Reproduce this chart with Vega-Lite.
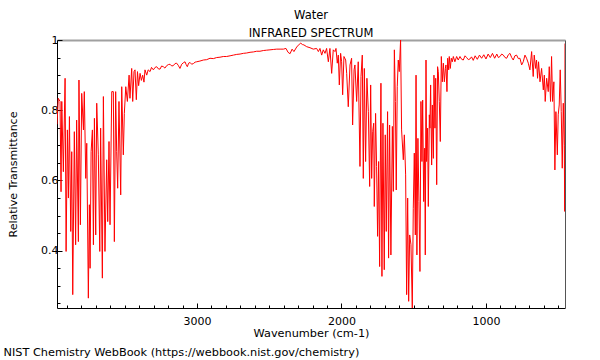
{
  "$schema": "https://vega.github.io/schema/vega-lite/v6.json",
  "width": 508,
  "height": 268,
  "autosize": "none",
  "padding": {"left": 57, "top": 40, "right": 35, "bottom": 52},
  "background": "white",
  "config": {"view": {"stroke": null}, "font": "DejaVu Sans"},
  "title": {"text": ["Water", "INFRARED SPECTRUM"], "font": "DejaVu Sans", "fontSize": 11.5, "fontWeight": "normal", "lineHeight": 18, "offset": -5, "color": "black", "anchor": "middle"},
  "data": {"values": [
    {"wn":3969,"T":0.76},{"wn":3960,"T":0.834},{"wn":3948,"T":0.825},{"wn":3941,"T":0.568},{"wn":3936,"T":0.825},{"wn":3925,"T":0.625},{"wn":3913,"T":0.891},{"wn":3906,"T":0.398},{"wn":3897,"T":0.744},{"wn":3890,"T":0.55},{"wn":3883,"T":0.782},{"wn":3874,"T":0.455},{"wn":3867,"T":0.682},{"wn":3860,"T":0.275},{"wn":3849,"T":0.739},{"wn":3840,"T":0.417},{"wn":3833,"T":0.772},{"wn":3821,"T":0.426},{"wn":3817,"T":0.886},{"wn":3807,"T":0.474},{"wn":3798,"T":0.848},{"wn":3786,"T":0.744},{"wn":3780,"T":0.853},{"wn":3770,"T":0.606},{"wn":3763,"T":0.706},{"wn":3752,"T":0.265},{"wn":3745,"T":0.531},{"wn":3740,"T":0.35},{"wn":3733,"T":0.682},{"wn":3724,"T":0.744},{"wn":3717,"T":0.417},{"wn":3710,"T":0.777},{"wn":3701,"T":0.445},{"wn":3694,"T":0.82},{"wn":3683,"T":0.673},{"wn":3673,"T":0.398},{"wn":3667,"T":0.749},{"wn":3655,"T":0.322},{"wn":3648,"T":0.839},{"wn":3637,"T":0.398},{"wn":3625,"T":0.659},{"wn":3618,"T":0.483},{"wn":3609,"T":0.711},{"wn":3602,"T":0.474},{"wn":3590,"T":0.853},{"wn":3579,"T":0.853},{"wn":3572,"T":0.426},{"wn":3563,"T":0.853},{"wn":3556,"T":0.682},{"wn":3549,"T":0.578},{"wn":3540,"T":0.825},{"wn":3528,"T":0.559},{"wn":3521,"T":0.867},{"wn":3510,"T":0.673},{"wn":3503,"T":0.791},{"wn":3493,"T":0.867},{"wn":3482,"T":0.825},{"wn":3470,"T":0.9},{"wn":3464,"T":0.834},{"wn":3452,"T":0.919},{"wn":3445,"T":0.825},{"wn":3436,"T":0.91},{"wn":3429,"T":0.915},{"wn":3420,"T":0.83},{"wn":3412,"T":0.91},{"wn":3404,"T":0.87},{"wn":3394,"T":0.905},{"wn":3385,"T":0.885},{"wn":3376,"T":0.9},{"wn":3367,"T":0.88},{"wn":3360,"T":0.915},{"wn":3348,"T":0.9},{"wn":3338,"T":0.915},{"wn":3325,"T":0.91},{"wn":3315,"T":0.922},{"wn":3302,"T":0.915},{"wn":3290,"T":0.922},{"wn":3279,"T":0.924},{"wn":3268,"T":0.918},{"wn":3256,"T":0.917},{"wn":3245,"T":0.926},{"wn":3233,"T":0.924},{"wn":3222,"T":0.92},{"wn":3210,"T":0.927},{"wn":3198,"T":0.93},{"wn":3187,"T":0.931},{"wn":3175,"T":0.926},{"wn":3164,"T":0.927},{"wn":3152,"T":0.933},{"wn":3141,"T":0.934},{"wn":3130,"T":0.928},{"wn":3118,"T":0.919},{"wn":3106,"T":0.931},{"wn":3095,"T":0.935},{"wn":3083,"T":0.938},{"wn":3075,"T":0.93},{"wn":3067,"T":0.924},{"wn":3058,"T":0.934},{"wn":3048,"T":0.936},{"wn":3037,"T":0.931},{"wn":3025,"T":0.933},{"wn":3013,"T":0.937},{"wn":3002,"T":0.938},{"wn":2980,"T":0.94},{"wn":2956,"T":0.943},{"wn":2933,"T":0.944},{"wn":2910,"T":0.948},{"wn":2887,"T":0.947},{"wn":2864,"T":0.95},{"wn":2841,"T":0.951},{"wn":2818,"T":0.953},{"wn":2795,"T":0.953},{"wn":2771,"T":0.955},{"wn":2748,"T":0.957},{"wn":2725,"T":0.959},{"wn":2702,"T":0.96},{"wn":2679,"T":0.962},{"wn":2656,"T":0.963},{"wn":2633,"T":0.965},{"wn":2610,"T":0.966},{"wn":2587,"T":0.968},{"wn":2564,"T":0.968},{"wn":2541,"T":0.97},{"wn":2518,"T":0.971},{"wn":2495,"T":0.972},{"wn":2472,"T":0.973},{"wn":2448,"T":0.974},{"wn":2425,"T":0.974},{"wn":2402,"T":0.974},{"wn":2384,"T":0.976},{"wn":2370,"T":0.965},{"wn":2356,"T":0.961},{"wn":2342,"T":0.974},{"wn":2329,"T":0.967},{"wn":2310,"T":0.98},{"wn":2292,"T":0.988},{"wn":2282,"T":0.991},{"wn":2270,"T":0.987},{"wn":2260,"T":0.986},{"wn":2241,"T":0.981},{"wn":2218,"T":0.978},{"wn":2195,"T":0.974},{"wn":2172,"T":0.976},{"wn":2160,"T":0.967},{"wn":2149,"T":0.976},{"wn":2137,"T":0.957},{"wn":2126,"T":0.972},{"wn":2114,"T":0.962},{"wn":2103,"T":0.976},{"wn":2091,"T":0.938},{"wn":2080,"T":0.976},{"wn":2068,"T":0.905},{"wn":2057,"T":0.972},{"wn":2045,"T":0.967},{"wn":2038,"T":0.976},{"wn":2029,"T":0.934},{"wn":2022,"T":0.957},{"wn":2015,"T":0.872},{"wn":2006,"T":0.962},{"wn":1999,"T":0.938},{"wn":1992,"T":0.844},{"wn":1983,"T":0.953},{"wn":1971,"T":0.943},{"wn":1964,"T":0.905},{"wn":1953,"T":0.81},{"wn":1941,"T":0.929},{"wn":1930,"T":0.948},{"wn":1923,"T":0.758},{"wn":1913,"T":0.915},{"wn":1907,"T":0.929},{"wn":1895,"T":0.825},{"wn":1884,"T":0.938},{"wn":1872,"T":0.64},{"wn":1865,"T":0.896},{"wn":1856,"T":0.957},{"wn":1849,"T":0.606},{"wn":1842,"T":0.919},{"wn":1833,"T":0.654},{"wn":1824,"T":0.891},{"wn":1814,"T":0.796},{"wn":1805,"T":0.583},{"wn":1798,"T":0.872},{"wn":1791,"T":0.606},{"wn":1784,"T":0.739},{"wn":1777,"T":0.763},{"wn":1773,"T":0.526},{"wn":1764,"T":0.791},{"wn":1757,"T":0.64},{"wn":1750,"T":0.441},{"wn":1743,"T":0.654},{"wn":1736,"T":0.355},{"wn":1727,"T":0.877},{"wn":1720,"T":0.327},{"wn":1713,"T":0.763},{"wn":1704,"T":0.346},{"wn":1697,"T":0.73},{"wn":1690,"T":0.455},{"wn":1681,"T":0.796},{"wn":1674,"T":0.379},{"wn":1667,"T":0.758},{"wn":1658,"T":0.388},{"wn":1648,"T":0.754},{"wn":1641,"T":0.569},{"wn":1634,"T":0.972},{"wn":1627,"T":0.825},{"wn":1621,"T":0.573},{"wn":1614,"T":0.867},{"wn":1607,"T":0.943},{"wn":1600,"T":0.91},{"wn":1591,"T":1.0},{"wn":1584,"T":0.744},{"wn":1572,"T":0.659},{"wn":1565,"T":0.73},{"wn":1556,"T":0.616},{"wn":1549,"T":0.275},{"wn":1542,"T":0.55},{"wn":1535,"T":0.256},{"wn":1528,"T":0.445},{"wn":1519,"T":0.417},{"wn":1510,"T":0.237},{"wn":1503,"T":0.521},{"wn":1496,"T":0.678},{"wn":1489,"T":0.445},{"wn":1484,"T":0.9},{"wn":1478,"T":0.388},{"wn":1471,"T":0.72},{"wn":1464,"T":0.54},{"wn":1457,"T":0.341},{"wn":1450,"T":0.825},{"wn":1443,"T":0.654},{"wn":1438,"T":0.829},{"wn":1431,"T":0.54},{"wn":1424,"T":0.692},{"wn":1420,"T":0.388},{"wn":1415,"T":0.943},{"wn":1411,"T":0.654},{"wn":1404,"T":0.749},{"wn":1399,"T":0.526},{"wn":1392,"T":0.787},{"wn":1388,"T":0.749},{"wn":1383,"T":0.872},{"wn":1376,"T":0.644},{"wn":1371,"T":0.815},{"wn":1364,"T":0.663},{"wn":1360,"T":0.9},{"wn":1353,"T":0.749},{"wn":1348,"T":0.891},{"wn":1341,"T":0.588},{"wn":1335,"T":0.924},{"wn":1330,"T":0.91},{"wn":1323,"T":0.825},{"wn":1316,"T":0.711},{"wn":1309,"T":0.953},{"wn":1302,"T":0.881},{"wn":1295,"T":0.934},{"wn":1288,"T":0.881},{"wn":1281,"T":0.919},{"wn":1277,"T":0.929},{"wn":1270,"T":0.853},{"wn":1265,"T":0.948},{"wn":1258,"T":0.915},{"wn":1254,"T":0.953},{"wn":1247,"T":0.919},{"wn":1240,"T":0.948},{"wn":1233,"T":0.938},{"wn":1226,"T":0.953},{"wn":1215,"T":0.938},{"wn":1203,"T":0.953},{"wn":1192,"T":0.943},{"wn":1180,"T":0.953},{"wn":1168,"T":0.945},{"wn":1157,"T":0.943},{"wn":1145,"T":0.955},{"wn":1134,"T":0.95},{"wn":1122,"T":0.944},{"wn":1111,"T":0.946},{"wn":1100,"T":0.952},{"wn":1088,"T":0.942},{"wn":1075,"T":0.955},{"wn":1060,"T":0.945},{"wn":1045,"T":0.957},{"wn":1030,"T":0.948},{"wn":1015,"T":0.958},{"wn":1000,"T":0.946},{"wn":985,"T":0.96},{"wn":970,"T":0.95},{"wn":955,"T":0.962},{"wn":940,"T":0.948},{"wn":925,"T":0.96},{"wn":914,"T":0.95},{"wn":903,"T":0.953},{"wn":891,"T":0.96},{"wn":880,"T":0.957},{"wn":868,"T":0.95},{"wn":857,"T":0.948},{"wn":845,"T":0.958},{"wn":834,"T":0.962},{"wn":822,"T":0.95},{"wn":811,"T":0.943},{"wn":800,"T":0.955},{"wn":788,"T":0.957},{"wn":776,"T":0.947},{"wn":765,"T":0.948},{"wn":753,"T":0.929},{"wn":742,"T":0.938},{"wn":730,"T":0.957},{"wn":719,"T":0.948},{"wn":707,"T":0.934},{"wn":696,"T":0.915},{"wn":684,"T":0.967},{"wn":673,"T":0.896},{"wn":666,"T":0.957},{"wn":656,"T":0.919},{"wn":650,"T":0.943},{"wn":643,"T":0.891},{"wn":636,"T":0.938},{"wn":626,"T":0.881},{"wn":615,"T":0.919},{"wn":603,"T":0.858},{"wn":596,"T":0.9},{"wn":590,"T":0.825},{"wn":580,"T":0.891},{"wn":569,"T":0.853},{"wn":562,"T":0.924},{"wn":553,"T":0.825},{"wn":546,"T":0.953},{"wn":539,"T":0.825},{"wn":530,"T":0.881},{"wn":523,"T":0.63},{"wn":516,"T":0.796},{"wn":506,"T":0.673},{"wn":500,"T":0.787},{"wn":493,"T":0.815},{"wn":486,"T":0.915},{"wn":479,"T":0.796},{"wn":472,"T":0.635},{"wn":465,"T":0.82},{"wn":458,"T":0.7},{"wn":455,"T":0.512},{"wn":453,"T":0.99}
  ]},
  "layer": [
    {
      "mark": {"type": "line", "stroke": "#ff0000", "strokeWidth": 1, "clip": true},
      "encoding": {
        "x": {"field": "wn", "type": "quantitative", "sort": null,
          "scale": {"domain": [3969, 453], "nice": false, "zero": false},
          "axis": {"title": "Wavenumber (cm-1)", "titleFont": "DejaVu Sans", "titleFontSize": 11.3, "titleFontWeight": "normal", "titleColor": "black", "titlePadding": 1,
            "values": [500,600,700,800,900,1000,1100,1200,1300,1400,1500,1600,1700,1800,1900,2000,2100,2200,2300,2400,2500,2600,2700,2800,2900,3000,3100,3200,3300,3400,3500,3600,3700,3800,3900],
            "format": "d", "labelExpr": "datum.value % 1000 === 0 ? datum.label : ''",
            "labelFont": "DejaVu Sans", "labelFontSize": 11, "labelColor": "black", "labelPadding": 12,
            "grid": false, "domainColor": "black", "tickColor": "black",
            "tickSize": {"condition": {"test": "datum.value % 1000 === 0", "value": -5}, "value": -3}}},
        "y": {"field": "T", "type": "quantitative",
          "scale": {"domain": [0.237, 1.0], "nice": false, "zero": false},
          "axis": {"title": "Relative Transmittance", "titleFont": "DejaVu Sans", "titleFontSize": 11, "titleFontWeight": "normal", "titleColor": "black", "titlePadding": 22,
            "values": [0.25,0.3,0.35,0.4,0.45,0.5,0.55,0.6,0.65,0.7,0.75,0.8,0.85,0.9,0.95,1.0],
            "labelExpr": "(abs(datum.value*10 - round(datum.value*10)) < 0.001 && round(datum.value*10) % 2 === 0) ? format(datum.value, '~g') : ''",
            "labelFont": "DejaVu Sans", "labelFontSize": 11, "labelColor": "black", "labelPadding": 4,
            "grid": false, "domainColor": "black", "tickColor": "black",
            "tickSize": {"condition": {"test": "abs(datum.value*10 - round(datum.value*10)) < 0.001 && round(datum.value*10) % 2 === 0", "value": -5}, "value": -3}}}
      }
    },
    {
      "mark": {"type": "line", "strokeOpacity": 0},
      "encoding": {
        "x": {"field": "wn", "type": "quantitative", "sort": null,
          "scale": {"domain": [3969, 453], "nice": false, "zero": false},
          "axis": {"orient": "top", "labels": false, "ticks": false, "title": null, "grid": false, "domainColor": "#a0a0a0", "domainWidth": 2}},
        "y": {"field": "T", "type": "quantitative",
          "scale": {"domain": [0.237, 1.0], "nice": false, "zero": false},
          "axis": {"orient": "right", "labels": false, "ticks": false, "title": null, "grid": false, "domainColor": "#555555", "domainWidth": 1}}
      }
    },
    {
      "mark": {"type": "line", "strokeOpacity": 0},
      "encoding": {
        "x": {"field": "wn", "type": "quantitative", "sort": null,
          "scale": {"domain": [3969, 453], "nice": false, "zero": false},
          "axis": {"orient": "bottom", "labels": false, "ticks": false, "domain": false, "grid": false,
            "title": "NIST Chemistry WebBook (https://webbook.nist.gov/chemistry)",
            "titleFont": "DejaVu Sans", "titleFontSize": 11.3, "titleFontWeight": "normal", "titleColor": "black",
            "titleAnchor": "start", "titleAlign": "left", "titleBaseline": "top", "titleX": -54, "titleY": 38}},
        "y": {"field": "T", "type": "quantitative",
          "scale": {"domain": [0.237, 1.0], "nice": false, "zero": false},
          "axis": null}
      }
    }
  ],
  "resolve": {"axis": {"x": "independent", "y": "independent"}}
}
